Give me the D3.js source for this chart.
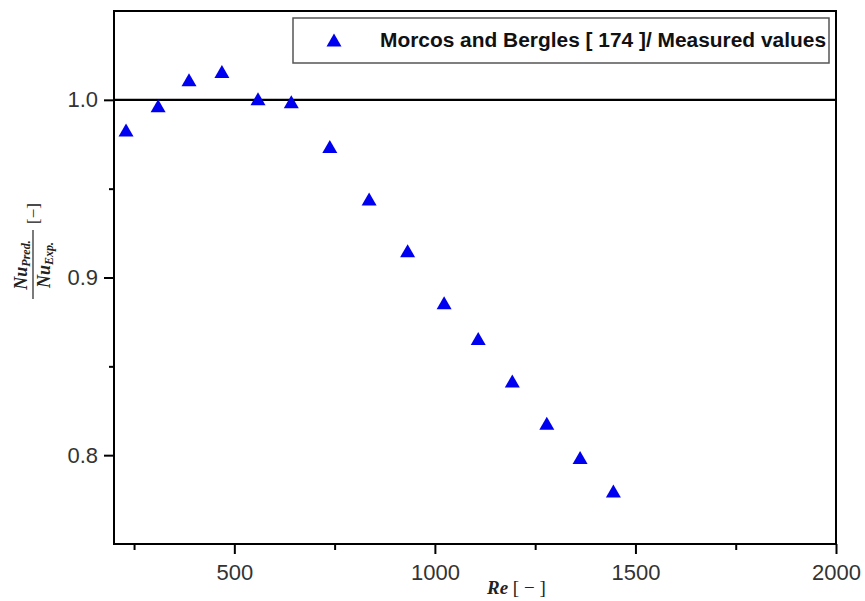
<!DOCTYPE html>
<html>
<head>
<meta charset="utf-8">
<script src="https://cdn.jsdelivr.net/npm/d3@7"></script>
<style>
  html, body { margin: 0; padding: 0; background: #fff; }
  svg { display: block; }
</style>
</head>
<body>
<svg id="chart" width="865" height="601"></svg>
<script>
// Reynolds number of each measurement
const reynolds = [230, 310, 387, 469, 559, 642, 738, 836, 932, 1023, 1108, 1193, 1279, 1362, 1445];
// Ratio of predicted to experimental Nusselt number
const nuRatio = [0.983, 0.9966, 1.0113, 1.016, 1.0006, 0.9989, 0.9737, 0.9442, 0.9151, 0.8858, 0.8657, 0.8417, 0.8179, 0.7987, 0.7799];

const xMajorTicks = [500, 1000, 1500, 2000];
const xMinorTicks = [250, 750, 1250, 1750];
const yMajorTicks = [0.8, 0.9, 1.0];
const yMinorTicks = [0.85, 0.95];

const seriesLabel = "Morcos and Bergles [ 174 ]/ Measured values";

const svg = d3.select("#chart");
const plot = { left: 114, right: 836, top: 11, bottom: 544 };

const x = d3.scaleLinear().domain([200, 2000]).range([plot.left, plot.right]);
const y = d3.scaleLinear().domain([0.75, 1.05]).range([plot.bottom, plot.top]);

const tickFont = "'Liberation Sans', Arial, sans-serif";
const serif = "'Liberation Serif', 'Times New Roman', serif";

// Triangle centred on its bounding box
function triangle(w, h) {
  const p = d3.path();
  p.moveTo(0, -h / 2);
  p.lineTo(w / 2, h / 2);
  p.lineTo(-w / 2, h / 2);
  p.closePath();
  return p.toString();
}

// Bottom axis: major and minor ticks drawn outward
const xAxis = svg.append("g").attr("transform", `translate(0,${plot.bottom})`);
xAxis.call(d3.axisBottom(x).tickValues(xMajorTicks).tickSize(10).tickPadding(10).tickFormat(d3.format("d")));
xAxis.append("g").call(d3.axisBottom(x).tickValues(xMinorTicks).tickSize(6).tickFormat(""));
xAxis.selectAll(".domain").remove();
xAxis.selectAll("line").attr("stroke", "#000").attr("stroke-width", 2);
xAxis.selectAll("text").attr("font-family", tickFont).attr("font-size", 22).attr("fill", "#333");

// Left axis
const yAxis = svg.append("g").attr("transform", `translate(${plot.left},0)`);
yAxis.call(d3.axisLeft(y).tickValues(yMajorTicks).tickSize(10).tickPadding(6).tickFormat(d3.format(".1f")));
yAxis.append("g").call(d3.axisLeft(y).tickValues(yMinorTicks).tickSize(5).tickFormat(""));
yAxis.selectAll(".domain").remove();
yAxis.selectAll("line").attr("stroke", "#000").attr("stroke-width", 2);
yAxis.selectAll("text").attr("font-family", tickFont).attr("font-size", 22).attr("fill", "#333");

// Plot frame
svg.append("rect")
  .attr("x", plot.left).attr("y", plot.top)
  .attr("width", plot.right - plot.left).attr("height", plot.bottom - plot.top)
  .attr("fill", "none").attr("stroke", "#000").attr("stroke-width", 2);

// Reference line at a ratio of one
svg.append("line")
  .attr("x1", x(200)).attr("x2", x(2000))
  .attr("y1", y(1.0)).attr("y2", y(1.0))
  .attr("stroke", "#000").attr("stroke-width", 2.2);

// Measured points
svg.append("g").selectAll("path")
  .data(reynolds.map((r, i) => [r, nuRatio[i]]))
  .join("path")
  .attr("d", triangle(15, 13))
  .attr("transform", d => `translate(${x(d[0])},${y(d[1])})`)
  .attr("fill", "#0000f0");

// Legend
const legend = svg.append("g");
legend.append("rect")
  .attr("x", 293).attr("y", 18).attr("width", 536).attr("height", 45)
  .attr("fill", "#fff").attr("stroke", "#555").attr("stroke-width", 1.5);
legend.append("path")
  .attr("d", triangle(15, 13))
  .attr("transform", "translate(334,40)")
  .attr("fill", "#0000f0");
legend.append("text")
  .attr("x", 380).attr("y", 47)
  .attr("font-family", tickFont).attr("font-weight", "bold").attr("font-size", 20)
  .attr("textLength", 446).attr("lengthAdjust", "spacingAndGlyphs")
  .attr("fill", "#111")
  .text(seriesLabel);

// X axis title: Re [−]
const xTitle = svg.append("text")
  .attr("x", 487).attr("y", 594)
  .attr("font-family", serif).attr("font-size", 19).attr("fill", "#222");
xTitle.append("tspan").attr("font-weight", "bold").attr("font-style", "italic").text("Re");
xTitle.append("tspan").text(" [ − ]");

// Y axis title: Nu_Pred. / Nu_Exp. [−], rotated
const yTitle = svg.append("g").attr("transform", "translate(33,299) rotate(-90)");
const num = yTitle.append("text")
  .attr("x", 34).attr("y", -6).attr("text-anchor", "middle")
  .attr("font-family", serif).attr("font-weight", "bold").attr("font-style", "italic")
  .attr("font-size", 18).attr("fill", "#222");
num.append("tspan").text("Nu");
num.append("tspan").attr("font-size", 12).attr("dy", 3).text("Pred.");
yTitle.append("line")
  .attr("x1", 0).attr("x2", 69).attr("y1", 0).attr("y2", 0)
  .attr("stroke", "#222").attr("stroke-width", 1.2);
const den = yTitle.append("text")
  .attr("x", 34).attr("y", 17).attr("text-anchor", "middle")
  .attr("font-family", serif).attr("font-weight", "bold").attr("font-style", "italic")
  .attr("font-size", 18).attr("fill", "#222");
den.append("tspan").text("Nu");
den.append("tspan").attr("font-size", 12).attr("dy", 3).text("Exp.");
yTitle.append("text")
  .attr("x", 75).attr("y", 6)
  .attr("font-family", serif).attr("font-size", 17).attr("fill", "#222")
  .text("[−]");
</script>
</body>
</html>
